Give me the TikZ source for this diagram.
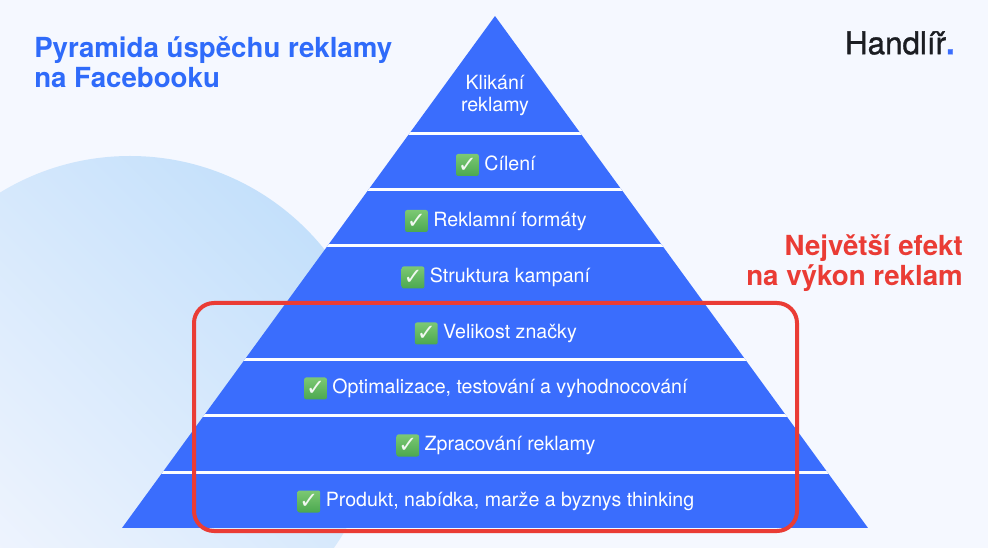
\documentclass[tikz,border=0pt]{standalone}
\usepackage{fontspec}
\setmainfont{TeX Gyre Heros}
\newfontfamily\symfont{DejaVu Sans}
\newfontfamily\logofont[FakeBold=1.2]{TeX Gyre Heros}
\usetikzlibrary{positioning}
\definecolor{pagebg}{HTML}{F5F8FF}
\definecolor{pyrblue}{HTML}{3A6DFD}
\definecolor{headblue}{HTML}{2F6BFA}
\definecolor{boxred}{HTML}{EA3C35}
\definecolor{inkdark}{HTML}{1B1D22}
\definecolor{blobhi}{HTML}{C4E0FB}
\definecolor{blobmid}{HTML}{EDF4FE}
\definecolor{bloblo}{HTML}{F3F6FE}
\definecolor{chklight}{HTML}{7CC873}
\definecolor{chkdark}{HTML}{4BA84F}
\tikzset{
  bandlabel/.style={inner sep=0pt, text=white, font=\fontsize{14.7}{16}\selectfont, text height=11pt, text depth=3pt},
  chkbox/.style={inner sep=0pt, minimum width=17pt, minimum height=16.5pt, rounded corners=1.5pt,
    top color=chklight, bottom color=chkdark, text=white!92!chkdark, font=\symfont\fontsize{17}{17}\selectfont\bfseries, left=3.8pt of #1},
  headline/.style={inner sep=0pt, anchor=west, align=left, font=\fontsize{20.75}{22.5}\selectfont\bfseries, text=headblue},
  effectline/.style={inner sep=0pt, anchor=east, align=right, font=\fontsize{20.75}{22}\selectfont\bfseries, text=boxred}
}
\begin{document}
\begin{tikzpicture}[x=0.75pt,y=-0.75pt]
  \useasboundingbox (0,0) rectangle (988,548);
  \fill [pagebg] (0,0) rectangle (988,548);
  \begin{scope}
    \clip (0,0) rectangle (988,548);
    \shade [top color=blobhi, middle color=blobmid, bottom color=bloblo, shading angle=-45] (130,405) circle (249);
  \end{scope}
  % pyramid
  \begin{scope}
    \path [clip] (495,16) -- (868,528) -- (122,528) -- cycle;
    \fill [pyrblue] (122,16) rectangle (868,528);
    \foreach \ycut in {133.5,189.5,246,303,359.5,416,472.5}
      \fill [white!85!pagebg] (122,\ycut-1.5) rectangle (868,\ycut+1.5);
  \end{scope}
  \node [bandlabel] (top1) at (495,84) {Klikání};
  \node [bandlabel] (top2) at (495,106) {reklamy};
  \node [bandlabel] (band1) at (510,165) {Cílení};
  \node [bandlabel] (band2) at (510,221) {Reklamní formáty};
  \node [bandlabel] (band3) at (510,277.5) {Struktura kampaní};
  \node [bandlabel] (band4) at (510,333.5) {Velikost značky};
  \node [bandlabel] (band5) at (510,388.5) {Optimalizace, testování a vyhodnocování};
  \node [bandlabel] (band6) at (510,445.5) {Zpracování reklamy};
  \node [bandlabel] (band7) at (510,501.5) {Produkt, nabídka, marže a byznys thinking};
  \foreach \n in {1,...,7}
    \node [chkbox=band\n] (chk\n) {✓};
  \node [headline] (title) at (34,62) {Pyramida úspěchu reklamy\\na Facebooku};
  \node [inner sep=0pt, anchor=east, font=\logofont\fontsize{23.5}{25}\selectfont] (logo) at (955,43) {\textcolor{inkdark}{Handlíř}\textcolor{pyrblue}{\bfseries .}};
  \node [effectline] (effect) at (963,263) {Největší efekt\\na výkon reklam};
  \draw [boxred, line width=3pt, rounded corners=15pt] (194,303) rectangle (797,531);
\end{tikzpicture}
\end{document}
